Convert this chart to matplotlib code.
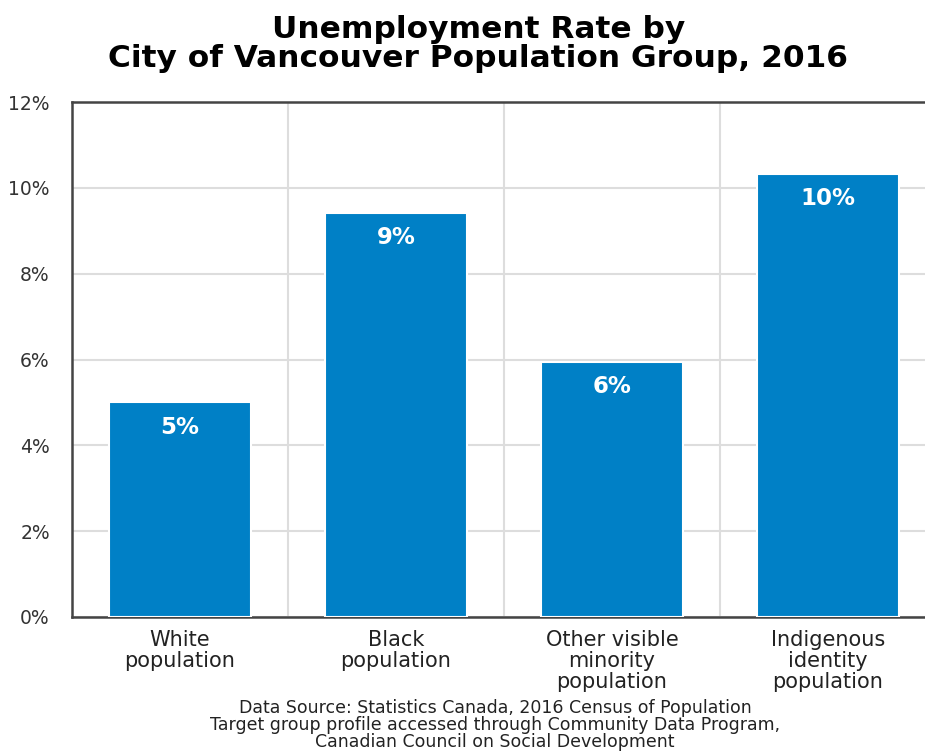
import matplotlib.pyplot as plt

# --- donnees ---
groups = ["White\npopulation", "Black\npopulation", "Other visible\nminority\npopulation",
          "Indigenous\nidentity\npopulation"]
rates = [5.0, 9.42, 5.94, 10.33]
rate_labels = ["5%", "9%", "6%", "10%"]
yticks = [0, 2, 4, 6, 8, 10, 12]

blue = "#0080C6"
plt.rcParams["font.family"] = ["DejaVu Sans"]

fig = plt.figure(figsize=(9.25, 7.52), dpi=100)
# axe qui deborde un peu a droite, comme l'image d'origine (rognee)
ax = fig.add_axes([72 / 925, 1 - 617 / 752, (936 - 72) / 925, (617 - 102) / 752])

x = range(len(groups))
bars = ax.bar(x, rates, width=0.66, color=blue, edgecolor="white", linewidth=1.5, zorder=3)

for b, lab in zip(bars, rate_labels):
    ax.text(b.get_x() + b.get_width() / 2, b.get_height() - 0.58, lab,
            ha="center", va="center", color="white", fontsize=16.5, fontweight="bold", zorder=4)

ax.set_xlim(-0.5, len(groups) - 0.5)
ax.set_ylim(0, 12)
ax.set_yticks(yticks)
ax.set_yticklabels([f"{t}%" for t in yticks], fontsize=13.5, color="#333333")
ax.set_xticks(list(x))
ax.set_xticklabels(groups, fontsize=15, color="#222222", linespacing=1.08)
ax.tick_params(length=0, pad=9)
ax.tick_params(axis="y", pad=16)

# grille
ax.yaxis.grid(True, color="#dddddd", linewidth=1.5, zorder=0)
for xb in [0.5, 1.5, 2.5]:
    ax.axvline(xb, color="#dddddd", linewidth=1.5, zorder=0)

for side in ["left", "bottom", "top"]:
    ax.spines[side].set_color("#444444")
    ax.spines[side].set_linewidth(1.8)
ax.spines["right"].set_visible(False)

fig.text(0.517, 0.98, "Unemployment Rate by\nCity of Vancouver Population Group, 2016",
         ha="center", va="top", fontsize=22.5, fontweight="bold", linespacing=1.0)
fig.text(0.535, 0.07, "Data Source: Statistics Canada, 2016 Census of Population\n"
         "Target group profile accessed through Community Data Program,\n"
         "Canadian Council on Social Development",
         ha="center", va="top", fontsize=12.5, color="#222222", linespacing=0.92)

fig.savefig("out.png", dpi=100)
